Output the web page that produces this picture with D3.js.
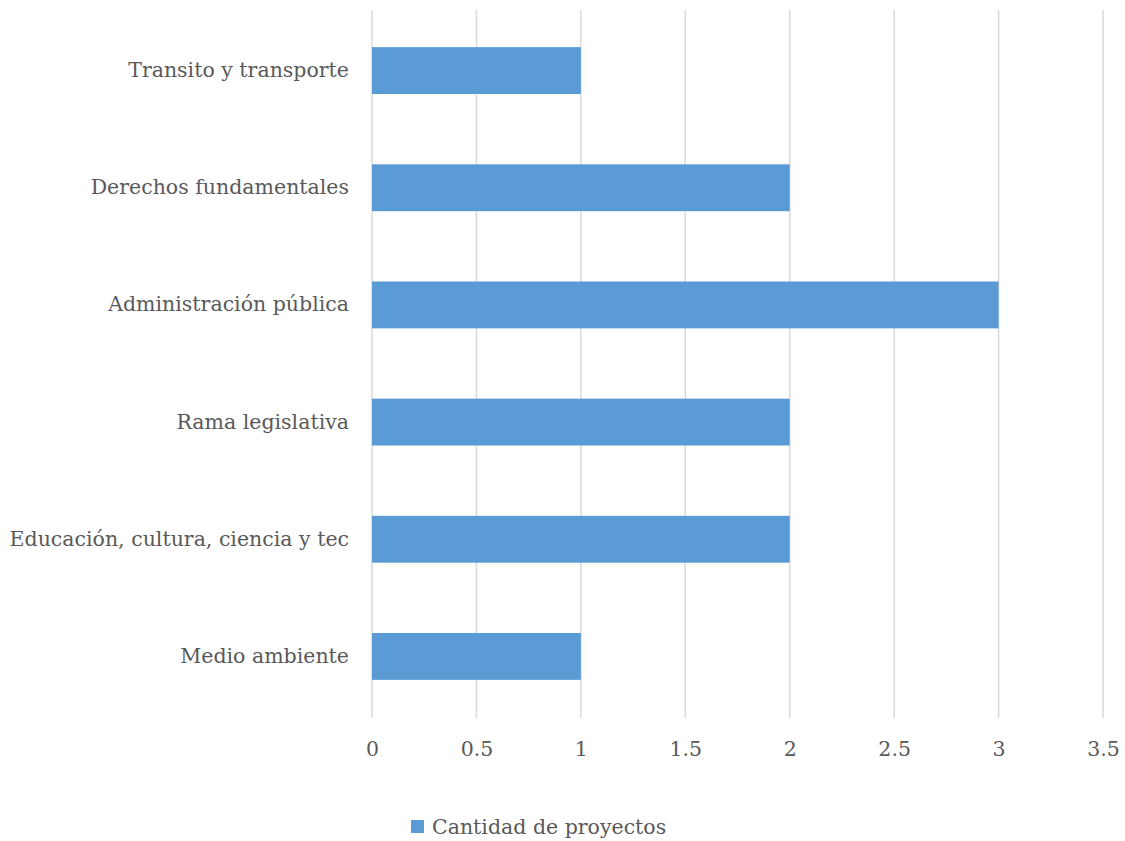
<!DOCTYPE html>
<html>
<head>
<meta charset="utf-8">
<script src="https://cdn.jsdelivr.net/npm/d3@7"></script>
<style>
  body { margin: 0; background: #fff; }
  text { font-family: "DejaVu Serif", "Liberation Serif", serif; fill: #595959; }
</style>
</head>
<body>
<div id="graph"></div>
<script>
// data, top to bottom
var categories = ["Transito y transporte", "Derechos fundamentales", "Administración pública",
                  "Rama legislativa", "Educación, cultura, ciencia y tec", "Medio ambiente"];
var values = [1, 2, 3, 2, 2, 1];
var xTicks = [0, 0.5, 1, 1.5, 2, 2.5, 3, 3.5];
var seriesName = "Cantidad de proyectos";

var W = 1125, H = 841;
var m = {top: 12, right: 22, bottom: 126, left: 372};
var w = W - m.left - m.right;
var h = H - m.top - m.bottom;
var fs = "20.5px";

var x = d3.scaleLinear().domain([0, 3.5]).range([0, w]);
var y = d3.scaleBand().domain(categories).range([0, h]).paddingInner(0.6).paddingOuter(0.3);

var svg = d3.select("#graph").append("svg")
  .attr("width", W)
  .attr("height", H);

var g = svg.append("g")
  .attr("transform", "translate(" + m.left + "," + m.top + ")");

// gridlines
g.selectAll("line.grid").data(xTicks).enter().append("line")
  .attr("class", "grid")
  .attr("x1", function(d) { return x(d); })
  .attr("x2", function(d) { return x(d); })
  .attr("y1", -2)
  .attr("y2", h + 3)
  .attr("stroke", "#d9d9d9")
  .attr("stroke-width", 1.5);

// bars
g.selectAll("rect.bar").data(values).enter().append("rect")
  .attr("class", "bar")
  .attr("x", x(0))
  .attr("y", function(d, i) { return y(categories[i]); })
  .attr("width", function(d) { return x(d) - x(0); })
  .attr("height", y.bandwidth())
  .attr("fill", "#5b9bd5");

// category labels
var yAxis = d3.axisLeft(y).tickSize(0).tickPadding(23);
var ya = g.append("g").call(yAxis);
ya.select(".domain").remove();
ya.selectAll("text").style("font-size", fs).attr("fill", "#595959");

// x tick labels
var xAxis = d3.axisBottom(x).tickValues(xTicks).tickSize(0).tickPadding(26)
  .tickFormat(function(d) { return String(d); });
var xa = g.append("g").attr("transform", "translate(0," + h + ")").call(xAxis);
xa.select(".domain").remove();
xa.selectAll("text").style("font-size", fs).attr("fill", "#595959");

// legend
var lg = svg.append("g").attr("transform", "translate(411,820)");
lg.append("rect").attr("width", 13).attr("height", 13).attr("fill", "#5b9bd5");
lg.append("text").attr("x", 21).attr("y", 14).style("font-size", fs).text(seriesName);
</script>
</body>
</html>
